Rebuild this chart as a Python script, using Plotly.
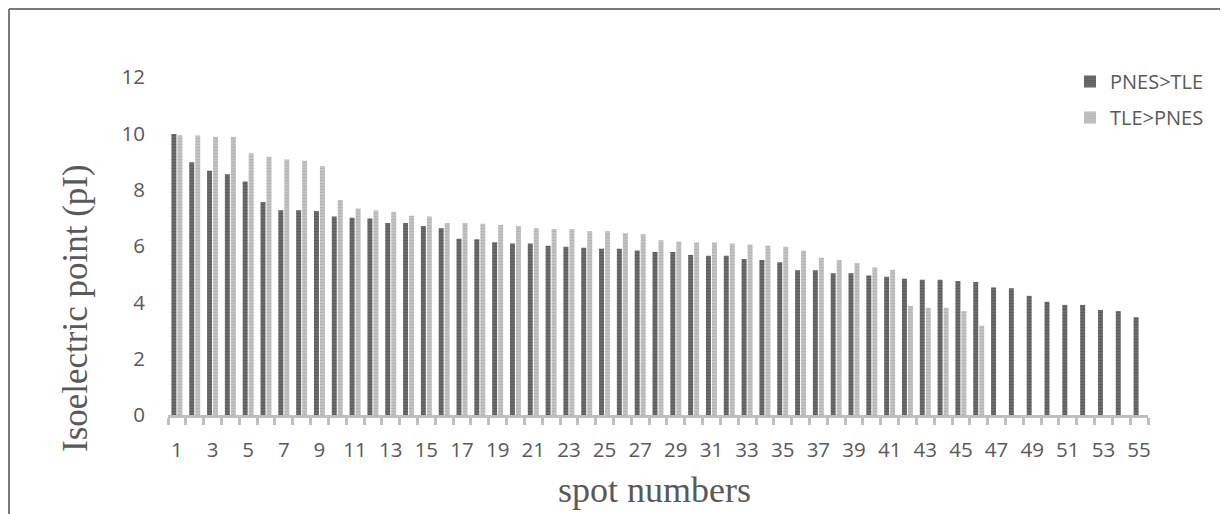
import plotly.graph_objects as go

spots = list(range(1, 56))
pnes_gt_tle = [9.98, 8.97, 8.67, 8.55, 8.29, 7.56, 7.27, 7.27, 7.24, 7.05,
               7.00, 6.98, 6.82, 6.82, 6.71, 6.63, 6.26, 6.24, 6.13, 6.09,
               6.09, 6.01, 5.97, 5.94, 5.90, 5.90, 5.84, 5.79, 5.79, 5.68,
               5.65, 5.65, 5.54, 5.50, 5.42, 5.14, 5.14, 5.03, 5.03, 4.95,
               4.91, 4.84, 4.80, 4.80, 4.76, 4.72, 4.53, 4.50, 4.23, 4.02,
               3.91, 3.91, 3.73, 3.69, 3.47]
tle_gt_pnes = [9.93, 9.92, 9.88, 9.88, 9.29, 9.17, 9.07, 9.03, 8.84, 7.63,
               7.33, 7.26, 7.22, 7.07, 7.05, 6.82, 6.82, 6.79, 6.75, 6.71,
               6.63, 6.60, 6.60, 6.52, 6.52, 6.45, 6.42, 6.20, 6.16, 6.12,
               6.12, 6.09, 6.05, 6.01, 5.97, 5.84, 5.58, 5.50, 5.40, 5.24,
               5.16, 3.87, 3.81, 3.81, 3.69, 3.17,
               None, None, None, None, None, None, None, None, None]
x_tick_labels = [str(v) for v in range(1, 56, 2)]
y_ticks = [0, 2, 4, 6, 8, 10, 12]

fig = go.Figure()
fig.add_trace(go.Bar(
    x=spots, y=pnes_gt_tle, name="PNES>TLE", legendgroup="a",
    marker=dict(color="#747474", line=dict(width=0),
                pattern=dict(shape="-", fgcolor="#434343", size=3, solidity=0.55)),
))
fig.add_trace(go.Bar(
    x=spots, y=tle_gt_pnes, name="TLE>PNES", legendgroup="b",
    marker=dict(color="#c8c8c8", line=dict(width=0),
                pattern=dict(shape="-", fgcolor="#a2a2a2", size=3, solidity=0.55)),
))

OFF = 8  # page body margin offset
W, H = 1228 - OFF, 514 - OFF
L, R, T, B = 168 - OFF, 1228 - 1148, 77 - OFF, 514 - 415
pw, ph = W - L - R, H - T - B

def px(xp):
    return (xp - OFF - L) / pw

def py(yp):
    return (H - B - (yp - OFF)) / ph

fig.update_layout(
    width=W, height=H,
    margin=dict(l=L, r=R, t=T, b=B, autoexpand=False),
    paper_bgcolor="white", plot_bgcolor="white",
    barmode="group", bargap=0.327, bargroupgap=0.17,
    font=dict(family="Open Sans", size=20, color="#595959"),
    showlegend=True,
    legend=dict(x=px(1070), y=py(62), xanchor="left", yanchor="top",
                traceorder="grouped", tracegroupgap=7,
                font=dict(family="Open Sans", size=20, color="#595959"),
                bgcolor="rgba(0,0,0,0)", itemwidth=30),
    xaxis=dict(
        type="linear", range=[0.5, 55.5],
        tickmode="array", tickvals=list(range(1, 56, 2)), ticktext=x_tick_labels,
        ticks="outside", ticklen=0, tickcolor="rgba(0,0,0,0)",
        ticklabelstandoff=14,
        minor=dict(tick0=0.5, dtick=1, ticks="outside", ticklen=7, tickwidth=3,
                   tickcolor="#bfbfbf", showgrid=False),
        showline=True, linecolor="#bfbfbf", linewidth=3,
        showgrid=False, zeroline=False,
        tickfont=dict(family="Open Sans", size=20.5, color="#595959"),
    ),
    yaxis=dict(
        range=[0, 12], tickmode="array", tickvals=y_ticks,
        showgrid=False, zeroline=False, showline=False,
        ticks="", ticklabelstandoff=22,
        tickfont=dict(family="Open Sans", size=20.5, color="#595959"),
    ),
    annotations=[
        dict(text="Isoelectric point (pI)", xref="paper", yref="paper",
             x=px(75), y=py(308), textangle=-90, showarrow=False,
             xanchor="center", yanchor="middle",
             font=dict(family="Liberation Serif", size=35, color="#595959")),
        dict(text="spot numbers", xref="paper", yref="paper",
             x=px(654), y=py(490), showarrow=False,
             xanchor="center", yanchor="middle",
             font=dict(family="Liberation Serif", size=36, color="#595959")),
    ],
    shapes=[
        dict(type="line", xref="paper", yref="paper",
             x0=px(OFF + 1), x1=px(1240), y0=py(OFF + 1), y1=py(OFF + 1),
             line=dict(color="#7a7a7a", width=2)),
        dict(type="line", xref="paper", yref="paper",
             x0=px(OFF + 1), x1=px(OFF + 1), y0=py(OFF + 1), y1=py(530),
             line=dict(color="#7a7a7a", width=2)),
    ],
)

fig.write_html("out.html")
